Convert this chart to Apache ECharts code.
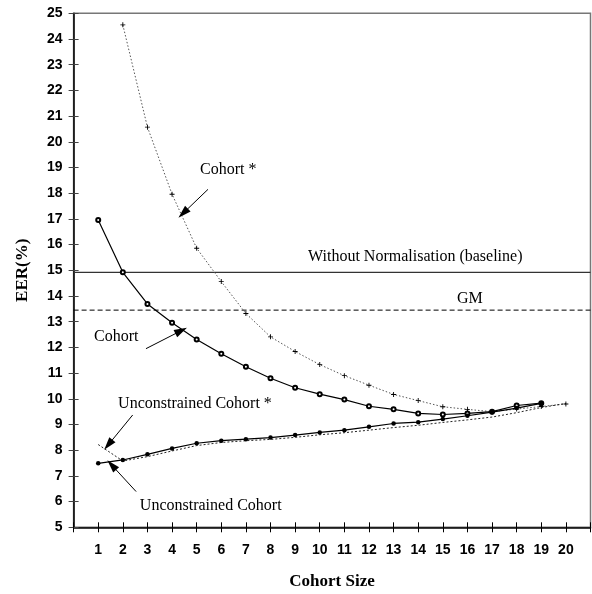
<!DOCTYPE html>
<html><head><meta charset="utf-8">
<script src="https://cdn.jsdelivr.net/npm/echarts@6/dist/echarts.min.js"></script>
<style>html,body{margin:0;padding:0;background:#fff}#c{width:592px;height:594px}</style>
</head><body><div id="c"></div>
<script>
// ---- data ----
const xCohortStar = [2,3,4,5,6,7,8,9,10,11,12,13,14,15,16,17,18,19,20];
const cohortStar = [24.55,20.57,17.96,15.86,14.56,13.32,12.41,11.84,11.33,10.9,10.53,10.17,9.93,9.69,9.59,9.5,9.6,9.7,9.8];
const xCohort = [1,2,3,4,5,6,7,8,9,10,11,12,13,14,15,16,17,18,19];
const cohort = [16.96,14.92,13.69,12.96,12.31,11.75,11.25,10.8,10.43,10.18,9.97,9.71,9.59,9.43,9.39,9.43,9.5,9.74,9.83];
const xUncon = [1,2,3,4,5,6,7,8,9,10,11,12,13,14,15,16,17,18,19];
const uncon = [7.49,7.62,7.84,8.07,8.27,8.37,8.43,8.49,8.59,8.69,8.78,8.91,9.04,9.09,9.21,9.34,9.48,9.64,9.82];
const xUnconStar = [1,2,3,4,5,6,7,8,9,10,11,12,13,14,15,16,17,18,19,20];
const unconStar = [8.22,7.58,7.75,7.97,8.18,8.3,8.37,8.42,8.5,8.6,8.68,8.78,8.88,8.97,9.08,9.18,9.29,9.46,9.66,9.82];
const baselineValue = 14.92;
const gmValue = 13.45;
const xTickLabels = [1,2,3,4,5,6,7,8,9,10,11,12,13,14,15,16,17,18,19,20];

// ---- annotations (data coordinates) ----
const notes = [
  {text:'Cohort *', at:[6.28,18.9], from:[5.46,18.15], to:[4.45,17.22]},
  {text:'Cohort', at:[1.73,12.41], from:[2.94,11.95], to:[4.37,12.65]},
  {text:'Unconstrained Cohort *', at:[4.93,9.82], from:[2.40,9.37], to:[1.41,8.21]},
  {text:'Unconstrained Cohort', at:[5.57,5.84], from:[2.54,6.39], to:[1.55,7.42]},
  {text:'Without Normalisation (baseline)', at:[13.88,15.53]},
  {text:'GM', at:[16.1,13.89]}
];

const pairs = (xs, ys) => xs.map((x,i)=>[x, ys[i]]);
const SERIF = 'Liberation Serif';
const plusPath = 'path://M-1,-0.18H1V0.18H-1Z M-0.18,-1H0.18V1H-0.18Z';

const chart = echarts.init(document.getElementById('c'), null, {renderer:'canvas'});
const option = {
  animation:false,
  backgroundColor:'#fff',
  grid:{left:73.6, right:1.5, top:13.3, bottom:66.7, show:true, borderColor:'#777', borderWidth:1.5,
        containLabel:false, outerBoundsMode:'none'},
  xAxis:[{
    type:'value', min:0, max:21, interval:1,
    name:'Cohort Size', nameLocation:'middle', nameGap:46,
    nameTextStyle:{fontFamily:SERIF, fontWeight:'bold', fontSize:17, color:'#000'},
    axisLine:{lineStyle:{color:'#000', width:1.5}},
    axisTick:{show:true, length:5, lineStyle:{color:'#000'}},
    axisLabel:{margin:16, fontFamily:'Liberation Sans', fontWeight:'bold', fontSize:14, color:'#000',
      formatter:v => xTickLabels.indexOf(v) >= 0 ? String(v) : ''},
    splitLine:{show:false}
  },{
    type:'value', min:0, max:21, interval:1, position:'bottom',
    axisLine:{show:false}, axisTick:{show:true, inside:true, length:5, lineStyle:{color:'#000'}},
    axisLabel:{show:false}, splitLine:{show:false}
  }],
  yAxis:[{
    type:'value', min:5, max:25, interval:1,
    name:'EER(%)', nameLocation:'middle', nameGap:42,
    nameTextStyle:{fontFamily:SERIF, fontWeight:'bold', fontSize:17, color:'#000'},
    axisLine:{show:true, lineStyle:{color:'#000', width:1.5}},
    axisTick:{show:true, length:5, lineStyle:{color:'#444'}},
    axisLabel:{margin:11, fontFamily:'Liberation Sans', fontWeight:'bold', fontSize:14, color:'#000'},
    splitLine:{show:false}
  },{
    type:'value', min:5, max:25, interval:1, position:'left',
    axisLine:{show:false}, axisTick:{show:true, inside:true, length:5, lineStyle:{color:'#444'}},
    axisLabel:{show:false}, splitLine:{show:false}
  }],
  series:[
    {name:'baseline', type:'line', data:[[0,baselineValue],[21,baselineValue]], symbol:'none',
     lineStyle:{color:'#333', width:1.3}, silent:true, z:2,
     markLine:{silent:true, animation:false, label:{show:false},
       lineStyle:{color:'#000', width:1, type:'solid'},
       data: notes.filter(n=>n.from).map(n=>[
         {coord:n.from, symbol:'none'},
         {coord:n.to, symbol:'triangle', symbolSize:[8,13]}
       ])},
     markPoint:{silent:true, animation:false, symbol:'circle', symbolSize:1, itemStyle:{color:'rgba(0,0,0,0)'},
       label:{show:true, position:'inside', fontFamily:SERIF, fontSize:16, color:'#000', formatter:p=>p.name},
       data: notes.map(n=>({name:n.text, coord:n.at}))}
    },
    {name:'GM', type:'line', data:[[0,gmValue],[21,gmValue]], symbol:'none',
     lineStyle:{color:'#000', width:1, type:[5,3]}, silent:true, z:2},
    {name:'Cohort *', type:'line', data:pairs(xCohortStar, cohortStar), symbol:plusPath, symbolSize:5,
     itemStyle:{color:'#000'}, lineStyle:{color:'#555', width:1, type:[1.5,2]}, z:3},
    {name:'Unconstrained Cohort *', type:'line', data:pairs(xUnconStar, unconStar), symbol:'none',
     lineStyle:{color:'#222', width:1, type:[2,2]}, z:3},
    {name:'Cohort', type:'line', data:pairs(xCohort, cohort), symbol:'emptyCircle', symbolSize:4,
     itemStyle:{color:'#000', borderWidth:1}, lineStyle:{color:'#000', width:1.2}, z:4},
    {name:'Unconstrained Cohort', type:'line', data:pairs(xUncon, uncon), symbol:'circle', symbolSize:4.5,
     itemStyle:{color:'#000'}, lineStyle:{color:'#000', width:1.2}, z:4}
  ]
};
chart.setOption(option);
</script>
</body></html>
